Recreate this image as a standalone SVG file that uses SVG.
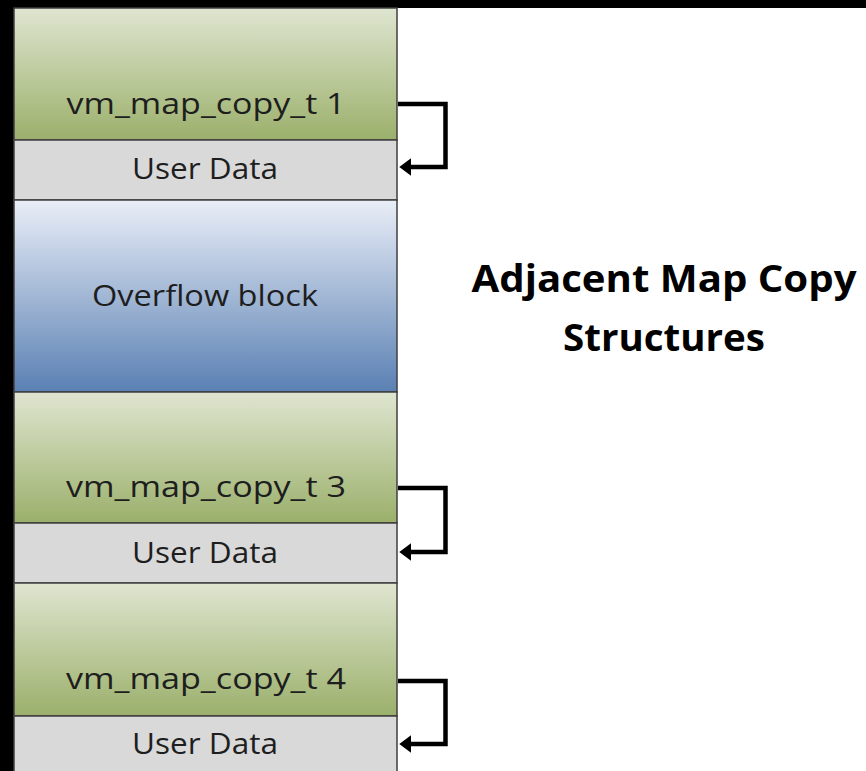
<svg xmlns="http://www.w3.org/2000/svg" width="866" height="771" viewBox="0 0 866 771">
<defs>
<linearGradient id="gGreen" x1="0" y1="0" x2="0" y2="1">
<stop offset="0" stop-color="#dfe5d0"/>
<stop offset="1" stop-color="#9bb06b"/>
</linearGradient>
<linearGradient id="gBlue" x1="0" y1="0" x2="0" y2="1">
<stop offset="0" stop-color="#e9eef7"/>
<stop offset="1" stop-color="#5a80b3"/>
</linearGradient>
<marker id="ah" viewBox="0 0 10 10" refX="2" refY="5" markerWidth="2.7" markerHeight="4" orient="auto" markerUnits="strokeWidth" preserveAspectRatio="none">
<path d="M0,0 L10,5 L0,10 Z" fill="#000"/>
</marker>
</defs>
<style>
.box{stroke:#3f3f3f;stroke-width:1.5}
.green{fill:url(#gGreen)}
.gray{fill:#d9d9d9}
.blue{fill:url(#gBlue)}
.lbl{font-family:"Open Sans","Liberation Sans",sans-serif;font-size:29px;fill:#1e1e1e;text-anchor:middle}
.title{font-family:"Open Sans","Liberation Sans",sans-serif;font-size:37px;font-weight:bold;fill:#000;text-anchor:middle}
.conn{fill:none;stroke:#000;stroke-width:4.5}
</style>
<rect x="0" y="0" width="866" height="771" fill="#fff"/>
<rect x="0" y="0" width="866" height="8" fill="#000"/>
<rect x="0" y="0" width="14" height="771" fill="#000"/>

<g id="copy1">
<rect class="box green" x="14" y="8" width="383" height="132"/>
<text class="lbl" x="206" y="114" textLength="279" lengthAdjust="spacingAndGlyphs">vm_map_copy_t 1</text>
</g>
<g id="data1">
<rect class="box gray" x="14" y="140" width="383" height="60"/>
<text class="lbl" x="205" y="179" textLength="146" lengthAdjust="spacingAndGlyphs">User Data</text>
</g>
<g id="overflow">
<rect class="box blue" x="14" y="200" width="383" height="192"/>
<text class="lbl" x="205" y="306" textLength="226" lengthAdjust="spacingAndGlyphs">Overflow block</text>
</g>
<g id="copy3">
<rect class="box green" x="14" y="392" width="383" height="131"/>
<text class="lbl" x="206" y="497" textLength="280" lengthAdjust="spacingAndGlyphs">vm_map_copy_t 3</text>
</g>
<g id="data3">
<rect class="box gray" x="14" y="523" width="383" height="60"/>
<text class="lbl" x="205" y="563" textLength="146" lengthAdjust="spacingAndGlyphs">User Data</text>
</g>
<g id="copy4">
<rect class="box green" x="14" y="583" width="383" height="133"/>
<text class="lbl" x="206" y="689" textLength="280" lengthAdjust="spacingAndGlyphs">vm_map_copy_t 4</text>
</g>
<g id="data4">
<rect class="box gray" x="14" y="716" width="383" height="60"/>
<text class="lbl" x="205" y="754" textLength="146" lengthAdjust="spacingAndGlyphs">User Data</text>
</g>

<g id="title">
<text class="title" x="664" y="292" textLength="385" lengthAdjust="spacingAndGlyphs">Adjacent Map Copy</text>
<text class="title" x="664" y="351" textLength="202" lengthAdjust="spacingAndGlyphs">Structures</text>
</g>

<g id="connectors">
<path class="conn" marker-end="url(#ah)" d="M398,104 H445.5 V167 H409"/>
<path class="conn" marker-end="url(#ah)" d="M398,488 H445.5 V552 H409"/>
<path class="conn" marker-end="url(#ah)" d="M398,681 H445.5 V744 H409"/>
</g>
</svg>
